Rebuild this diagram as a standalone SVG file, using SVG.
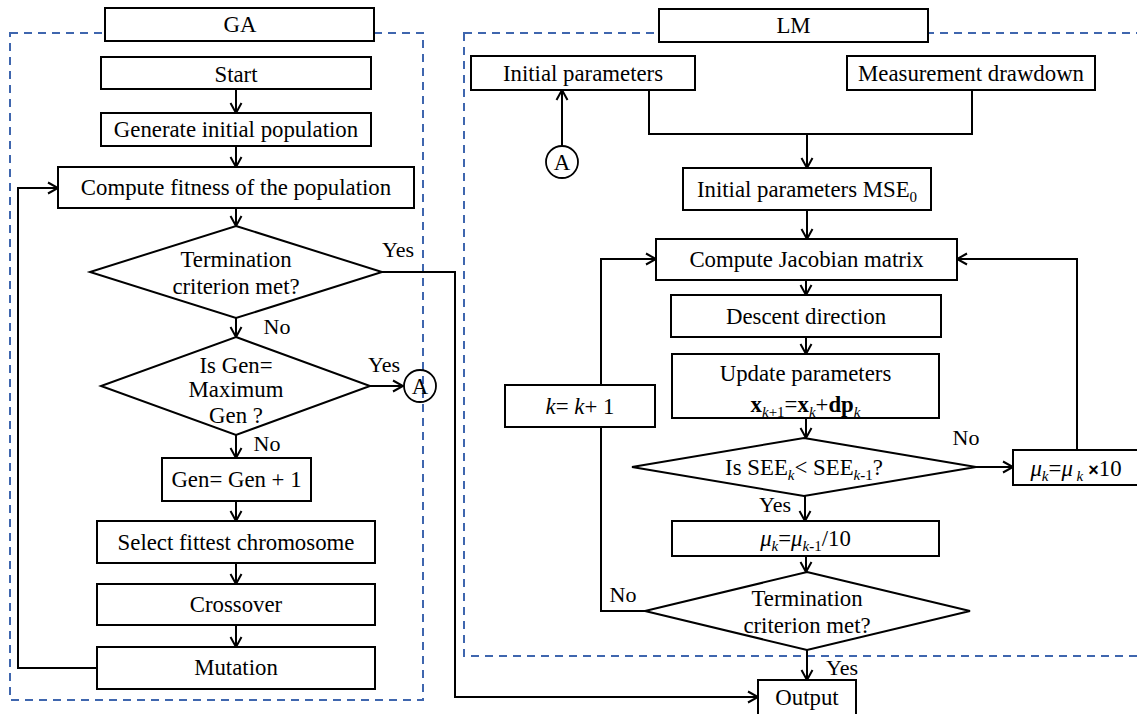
<svg xmlns="http://www.w3.org/2000/svg" width="1137" height="714" viewBox="0 0 1137 714">
<defs>
<marker id="arr" markerUnits="userSpaceOnUse" markerWidth="14" markerHeight="14" viewBox="0 0 14 14" refX="12" refY="7" orient="auto">
<path d="M2,1.5 L12,7 L2,12.5" fill="none" stroke="#000" stroke-width="2"/>
</marker>
<style>
.box{fill:#fff;stroke:#000;stroke-width:2}
.dec{fill:#fff;stroke:#000;stroke-width:2}
.circ{fill:none;stroke:#000;stroke-width:1.8}
.dash{fill:none;stroke:#3F66AE;stroke-width:2;stroke-dasharray:8 6}
.ln{fill:none;stroke:#000;stroke-width:2}
.ar{fill:none;stroke:#000;stroke-width:2;marker-end:url(#arr)}
text{font-family:"Liberation Serif","Times New Roman",serif;font-size:22.8px;fill:#000;text-anchor:middle}
.lbl{font-size:22px}
.it{font-style:italic}
.b{font-weight:bold}
.sub{font-size:15px}
</style>
</defs>
<rect width="1137" height="714" fill="#fff"/>
<g id="frames">
<rect class="dash" x="10" y="33" width="413" height="667"/>
<rect class="dash" x="464" y="33" width="690" height="623"/>
</g>
<g id="connectors">
<line class="ar" x1="236" y1="89" x2="236" y2="113"/>
<line class="ar" x1="236" y1="146" x2="236" y2="167"/>
<line class="ar" x1="236" y1="208" x2="236" y2="226"/>
<line class="ar" x1="236" y1="318" x2="236" y2="337"/>
<line class="ar" x1="236" y1="435" x2="236" y2="458"/>
<line class="ar" x1="236" y1="501" x2="236" y2="521"/>
<line class="ar" x1="236" y1="563" x2="236" y2="584"/>
<line class="ar" x1="236" y1="625" x2="236" y2="647"/>
<line class="ar" x1="370" y1="386" x2="403" y2="386"/>
<polyline class="ar" points="97,668 18,668 18,188 58,188"/>
<polyline class="ar" points="382,272 455,272 455,697 758,697"/>
<line class="ar" x1="562" y1="146" x2="562" y2="90"/>
<polyline class="ln" points="649,90 649,134 972,134 972,90"/>
<line class="ar" x1="807" y1="134" x2="807" y2="168"/>
<line class="ar" x1="807" y1="210" x2="807" y2="239"/>
<line class="ar" x1="806" y1="280" x2="806" y2="295"/>
<line class="ar" x1="806" y1="337" x2="806" y2="354"/>
<line class="ar" x1="806" y1="418" x2="806" y2="438"/>
<line class="ar" x1="976" y1="467" x2="1013" y2="467"/>
<polyline class="ar" points="1077,450 1077,259 957,259"/>
<line class="ar" x1="805" y1="496" x2="805" y2="521"/>
<line class="ar" x1="806" y1="556" x2="806" y2="572"/>
<polyline class="ln" points="645,611 601,611 601,427"/>
<polyline class="ar" points="601,385 601,259 656,259"/>
<line class="ar" x1="807" y1="650" x2="807" y2="680"/>
<text class="lbl" x="398" y="257">Yes</text>
<text class="lbl" x="277" y="334">No</text>
<text class="lbl" x="384" y="372">Yes</text>
<text class="lbl" x="267" y="451">No</text>
<text class="lbl" x="966" y="445">No</text>
<text class="lbl" x="775" y="512">Yes</text>
<text class="lbl" x="623" y="602">No</text>
<text class="lbl" x="842" y="675">Yes</text>
</g>
<g id="ga-title"><rect class="box" x="105" y="8" width="269" height="33"/><text x="240" y="32">GA</text></g>
<g id="start"><rect class="box" x="101" y="57" width="270" height="32"/><text x="236" y="82">Start</text></g>
<g id="gen-init"><rect class="box" x="101" y="113" width="270" height="33"/><text x="236" y="137">Generate initial population</text></g>
<g id="fitness"><rect class="box" x="58" y="167" width="356" height="41"/><text x="236" y="195">Compute fitness of the population</text></g>
<g id="ga-term"><polygon class="dec" points="236,226 382,272 236,318 90,272"/><text x="236" y="267">Termination</text><text x="236" y="294">criterion met?</text></g>
<g id="max-gen"><polygon class="dec" points="236,337 370,386 236,435 101,386"/><text x="236" y="373">Is Gen=</text><text x="236" y="397">Maximum</text><text x="236" y="423">Gen ?</text></g>
<g id="conn-a1"><circle class="circ" cx="420" cy="386" r="16"/><text x="420" y="394">A</text></g>
<g id="gen-inc"><rect class="box" x="162" y="458" width="149" height="43"/><text x="236.5" y="487">Gen= Gen + 1</text></g>
<g id="select"><rect class="box" x="97" y="521" width="278" height="42"/><text x="236" y="550">Select fittest chromosome</text></g>
<g id="crossover"><rect class="box" x="97" y="584" width="278" height="41"/><text x="236" y="612">Crossover</text></g>
<g id="mutation"><rect class="box" x="97" y="647" width="278" height="42"/><text x="236" y="675">Mutation</text></g>
<g id="lm-title"><rect class="box" x="659" y="9" width="269" height="33"/><text x="793.5" y="33">LM</text></g>
<g id="init-params"><rect class="box" x="471" y="56" width="224" height="34"/><text x="583" y="81">Initial parameters</text></g>
<g id="measure"><rect class="box" x="847" y="56" width="248" height="34"/><text x="971" y="81">Measurement drawdown</text></g>
<g id="conn-a2"><circle class="circ" cx="562" cy="162" r="16"/><text x="562" y="170">A</text></g>
<g id="mse"><rect class="box" x="683" y="168" width="248" height="42"/><text x="807" y="197">Initial parameters MSE<tspan class="sub" dy="5">0</tspan></text></g>
<g id="jacobian"><rect class="box" x="656" y="239" width="301" height="41"/><text x="806.5" y="267">Compute Jacobian matrix</text></g>
<g id="descent"><rect class="box" x="671" y="295" width="270" height="42"/><text x="806" y="324">Descent direction</text></g>
<g id="update"><rect class="box" x="672" y="354" width="267" height="64"/><text x="805.5" y="381">Update parameters</text><text x="805.5" y="412"><tspan class="b">x</tspan><tspan class="sub" dy="5"><tspan class="it">k</tspan>+1</tspan><tspan dy="-5">=</tspan><tspan class="b">x</tspan><tspan class="sub it" dy="5">k</tspan><tspan dy="-5">+</tspan><tspan class="b">dp</tspan><tspan class="sub it" dy="5">k</tspan></text></g>
<g id="k-inc"><rect class="box" x="505" y="385" width="150" height="42"/><text x="580" y="414"><tspan class="it">k</tspan>= <tspan class="it">k</tspan>+ 1</text></g>
<g id="see"><polygon class="dec" points="804,438 976,467 804,496 632,467"/><text x="804" y="475">Is SEE<tspan class="sub it" dy="5">k</tspan><tspan dy="-5">&lt; SEE</tspan><tspan class="sub" dy="5"><tspan class="it">k</tspan><tspan class="b">-</tspan>1</tspan><tspan dy="-5">?</tspan></text></g>
<g id="mu-up"><rect class="box" x="1013" y="450" width="130" height="35"/><text x="1076" y="476"><tspan class="it">μ</tspan><tspan class="sub it" dy="5">k</tspan><tspan dy="-5">=</tspan><tspan class="it">μ</tspan><tspan class="sub it" dy="5"> k</tspan><tspan dy="-5" style="font-family:'Liberation Sans',Arial,sans-serif;font-weight:bold;font-size:18px"> ×</tspan><tspan>10</tspan></text></g>
<g id="mu-down"><rect class="box" x="672" y="521" width="267" height="35"/><text x="805.5" y="546"><tspan class="it">μ</tspan><tspan class="sub it" dy="5">k</tspan><tspan dy="-5">=</tspan><tspan class="it">μ</tspan><tspan class="sub" dy="5"><tspan class="it">k</tspan><tspan class="b">-</tspan>1</tspan><tspan dy="-5">/10</tspan></text></g>
<g id="lm-term"><polygon class="dec" points="807,572 970,611 807,650 645,611"/><text x="807" y="606">Termination</text><text x="807" y="633">criterion met?</text></g>
<g id="output"><rect class="box" x="758" y="680" width="98" height="40"/><text x="807" y="705">Output</text></g>
</svg>
